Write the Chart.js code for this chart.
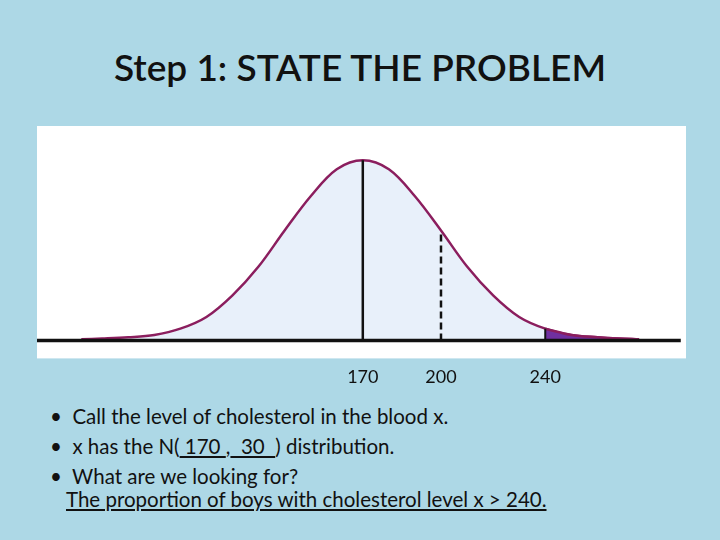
<!DOCTYPE html>
<html><head><meta charset="utf-8">
<script src="https://cdn.jsdelivr.net/npm/chart.js"></script>
<style>
body{margin:0;width:720px;height:540px;background:#add8e6;font-family:Lato,"Open Sans",sans-serif;position:relative;overflow:hidden}
h1{position:absolute;top:44px;left:0;width:720px;text-align:center;margin:0;font-weight:600;font-size:37px;color:#111}
#box{position:absolute;left:37px;top:126px;width:649px;height:262px}
.txt{position:absolute;left:50px;font-size:20.5px;color:#111;line-height:30px}
.txt div{white-space:nowrap}
u{text-decoration:underline}
</style></head><body>
<h1>Step 1: STATE THE PROBLEM</h1>
<div id="box"><canvas id="c"></canvas></div>
<div class="txt" style="top:401px">
<div>•&nbsp;&nbsp;Call the level of cholesterol in the blood x.</div>
<div>•&nbsp;&nbsp;x has the N(<u>&nbsp;170&nbsp;</u>,<u>&nbsp;&nbsp;30&nbsp;&nbsp;</u>) distribution.</div>
<div>•&nbsp;&nbsp;What are we looking for?</div>
</div>
<div class="txt" style="top:484px;left:66px"><u>The proportion of boys with cholesterol level x &gt; 240.</u></div>
<script>
const xs = [62, 70, 80, 90, 100, 110, 120, 130, 140, 150, 160, 170, 180, 190, 200, 210, 220, 230, 240, 250, 260, 268, 276];
const heights = [0.006, 0.01, 0.017, 0.03, 0.065, 0.13, 0.25, 0.41, 0.61, 0.80, 0.95, 1.0, 0.95, 0.80, 0.61, 0.41, 0.25, 0.13, 0.065, 0.03, 0.017, 0.01, 0.006];
const tickValues = [170, 200, 240];
const tailStart = 240;

const curve = xs.map((x, i) => ({x, y: heights[i]}));
const tail = curve.filter(p => p.x >= tailStart);
const hAt = x => heights[xs.indexOf(x)];

const whiteBg = {
  id: 'whiteBg',
  beforeDraw(chart) {
    const a = chart.chartArea, ctx = chart.ctx;
    ctx.save(); ctx.fillStyle = '#fff';
    ctx.fillRect(a.left, a.top, a.right - a.left, a.bottom - a.top);
    ctx.restore();
  }
};

new Chart(document.getElementById('c'), {
  type: 'scatter',
  data: {datasets: [
    {data: curve, order: 10, showLine: true, borderColor: '#8b1e5e', borderWidth: 2.5, pointRadius: 0, fill: 'origin', backgroundColor: '#e8f0fa', tension: 0.35},
    {data: tail, order: 5, showLine: true, borderColor: '#8b1e5e', borderWidth: 2.5, pointRadius: 0, fill: 'origin', backgroundColor: '#7030a0', tension: 0.35},
    {data: [{x: 45, y: 0}, {x: 292, y: 0}], order: 1, showLine: true, borderColor: '#111', borderWidth: 3.5, pointRadius: 0},
    {data: [{x: 170, y: 0}, {x: 170, y: hAt(170)}], order: 1, showLine: true, borderColor: '#111', borderWidth: 2.5, pointRadius: 0},
    {data: [{x: 200, y: 0}, {x: 200, y: hAt(200)}], order: 1, showLine: true, borderColor: '#111', borderWidth: 2.5, borderDash: [7, 4], pointRadius: 0},
    {data: [{x: 240, y: 0}, {x: 240, y: hAt(240)}], order: 1, showLine: true, borderColor: '#111', borderWidth: 2, pointRadius: 0}
  ]},
  options: {
    responsive: true, maintainAspectRatio: false, animation: false,
    layout: {padding: 0},
    plugins: {legend: {display: false}, tooltip: {enabled: false}},
    scales: {
      x: {type: 'linear', min: 45, max: 294, border: {display: false}, grid: {display: false},
        afterBuildTicks: s => { s.ticks = tickValues.map(v => ({value: v})); },
        ticks: {color: '#111', font: {size: 18, family: 'Lato'}, padding: 0}},
      y: {display: false, min: -0.1, max: 1.19}
    }
  },
  plugins: [whiteBg]
});
</script>
</body></html>
